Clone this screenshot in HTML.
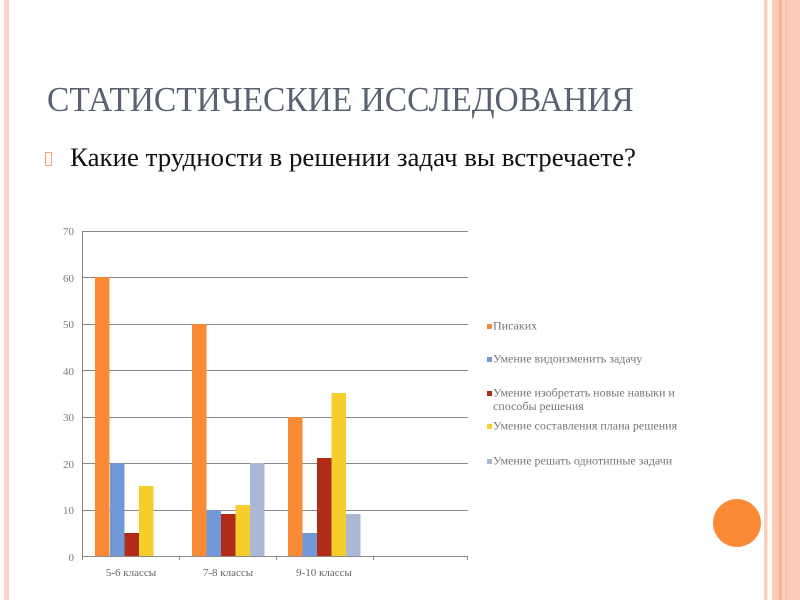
<!DOCTYPE html>
<html><head><meta charset="utf-8"><style>
body{margin:0;width:800px;height:600px;background:#fff;position:relative;overflow:hidden;font-family:"Liberation Serif",serif}
.s{position:absolute;top:0;height:600px}
</style></head><body>
<div class="s" style="left:4px;width:5px;background:#fcd3c4"></div>
<div class="s" style="left:764px;width:3px;background:#fbcfbf"></div>
<div class="s" style="left:767px;width:1px;background:#fde6dc"></div>
<div class="s" style="left:772px;width:28px;background:#fdcbb8"></div>
<div class="s" style="left:779px;width:3px;background:#f8b393"></div>
<div class="s" style="left:786px;width:1px;background:#f9bca2"></div>
<div style="position:absolute;left:713px;top:499px;width:48px;height:48px;border-radius:50%;background:#fb8a37"></div>
<div style="position:absolute;left:47px;top:80px;font-size:35px;color:#5a6170;white-space:nowrap;transform:scaleX(0.956);transform-origin:left">СТАТИСТИЧЕСКИЕ ИССЛЕДОВАНИЯ</div>
<div style="position:absolute;left:45px;top:152px;width:5px;height:12px;border:1px solid #f6a070"></div>
<div style="position:absolute;left:70px;top:142px;font-size:26.9px;color:#111;white-space:nowrap;">Какие трудности в решении задач вы встречаете?</div>
<svg style="position:absolute;left:0;top:0" width="800" height="600" font-family="Liberation Serif, serif" font-size="11" fill="#777">
<g stroke="#888" stroke-width="1">
<line x1="82" y1="231.5" x2="468" y2="231.5"/>
<line x1="82" y1="277.5" x2="468" y2="277.5"/>
<line x1="82" y1="324.5" x2="468" y2="324.5"/>
<line x1="82" y1="370.5" x2="468" y2="370.5"/>
<line x1="82" y1="417.5" x2="468" y2="417.5"/>
<line x1="82" y1="463.5" x2="468" y2="463.5"/>
<line x1="82" y1="510.5" x2="468" y2="510.5"/>
<line x1="82" y1="556.5" x2="468" y2="556.5"/>
<line x1="82.5" y1="231" x2="82.5" y2="560"/>
<line x1="179.5" y1="556" x2="179.5" y2="560"/>
<line x1="276.5" y1="556" x2="276.5" y2="560"/>
<line x1="373.5" y1="556" x2="373.5" y2="560"/>
<line x1="467.5" y1="556" x2="467.5" y2="560"/>
</g>
<g text-anchor="end">
<text x="74" y="235">70</text><text x="74" y="282">60</text><text x="74" y="328">50</text><text x="74" y="375">40</text><text x="74" y="421">30</text><text x="74" y="468">20</text><text x="74" y="514">10</text><text x="74" y="561">0</text>
</g>
<g>
<rect x="95" y="277" width="14.5" height="279" fill="#fb8a37"/>
<rect x="110" y="463" width="14.5" height="93" fill="#7199d8"/>
<rect x="124.5" y="533" width="14.5" height="23" fill="#b22b18"/>
<rect x="139" y="486" width="14.5" height="70" fill="#f5cd2c"/>
<rect x="192" y="324" width="14.5" height="232" fill="#fb8a37"/>
<rect x="206.5" y="510" width="14.5" height="46" fill="#7199d8"/>
<rect x="221" y="514" width="14.5" height="42" fill="#b22b18"/>
<rect x="235.5" y="505" width="14.5" height="51" fill="#f5cd2c"/>
<rect x="250" y="463" width="14.5" height="93" fill="#abb8d4"/>
<rect x="288" y="417" width="14.5" height="139" fill="#fb8a37"/>
<rect x="302.5" y="533" width="14.5" height="23" fill="#7199d8"/>
<rect x="317" y="458" width="14.5" height="98" fill="#b22b18"/>
<rect x="331.5" y="393" width="14.5" height="163" fill="#f5cd2c"/>
<rect x="346" y="514" width="14.5" height="42" fill="#abb8d4"/>
</g>
<g text-anchor="middle" fill="#666">
<text x="131" y="576">5-6 классы</text><text x="228" y="576">7-8 классы</text><text x="324" y="576">9-10 классы</text>
</g>
<g fill="#777" font-size="12">
<rect x="487" y="324" width="5" height="5" fill="#fb8a37"/><text x="493" y="329.5">Писаких</text>
<rect x="487" y="357" width="5" height="5" fill="#7199d8"/><text x="493" y="362.5">Умение видоизменить задачу</text>
<rect x="487" y="391" width="5" height="5" fill="#b22b18"/><text x="493" y="396.5">Умение изобретать новые навыки и</text><text x="493" y="410">способы решения</text>
<rect x="487" y="424" width="5" height="5" fill="#f5cd2c"/><text x="493" y="429.5">Умение составления плана решения</text>
<rect x="487" y="459" width="5" height="5" fill="#abb8d4"/><text x="493" y="464.5">Умение решать однотипные задачи</text>
</g>
</svg>
</body></html>
